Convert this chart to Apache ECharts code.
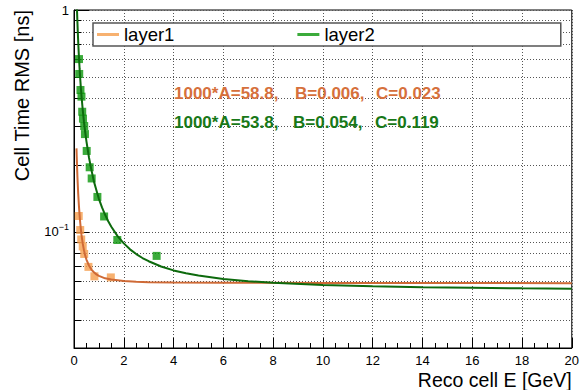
<!DOCTYPE html>
<html><head><meta charset="utf-8">
<script src="https://cdn.jsdelivr.net/npm/echarts@6/dist/echarts.min.js"></script>
<style>html,body{margin:0;padding:0;background:#fff}#c{width:582px;height:390px}</style>
</head><body><div id="c"></div>
<script>
// ---- data ----
const layer1E   = [0.19, 0.25, 0.29, 0.35, 0.41, 0.58, 0.82, 1.48];
const layer1RMS = [0.118, 0.102, 0.0925, 0.0861, 0.0796, 0.0696, 0.0631, 0.0624];

const layer2E   = [0.20, 0.21, 0.26, 0.30, 0.33, 0.36, 0.41, 0.44, 0.51, 0.63, 0.71, 0.94, 1.21, 1.74, 3.32];
const layer2RMS = [0.601, 0.515, 0.436, 0.407, 0.348, 0.324, 0.300, 0.276, 0.2317, 0.1956, 0.1742, 0.1438, 0.1174, 0.0920, 0.0780];

// fit curves
const fit1E   = [0.1, 0.11, 0.12, 0.13, 0.14, 0.15, 0.17, 0.2, 0.225, 0.25, 0.3, 0.35, 0.4, 0.45, 0.5, 0.6, 0.7, 0.8, 0.9, 1, 1.25, 1.5, 2, 2.5, 3, 4, 6, 10, 20];
const fit1RMS = [0.238, 0.218, 0.201, 0.187, 0.175, 0.165, 0.148, 0.130, 0.119, 0.110, 0.0972, 0.0888, 0.0828, 0.0784, 0.0751, 0.0706, 0.0677, 0.0658, 0.0644, 0.0634, 0.0618, 0.0610, 0.0601, 0.0597, 0.0594, 0.0592, 0.0590, 0.0589, 0.0588];

const fit2E   = [0.12, 0.13, 0.14, 0.15, 0.165, 0.18, 0.2, 0.225, 0.25, 0.275, 0.3, 0.35, 0.4, 0.45, 0.5, 0.6, 0.7, 0.8, 0.9, 1, 1.125, 1.25, 1.375, 1.5, 1.75, 2, 2.25, 2.5, 2.75, 3, 3.5, 4, 4.5, 5, 6, 7, 8, 10, 12, 14, 16, 18, 20];
const fit2RMS = [1.005, 0.931, 0.866, 0.807, 0.736, 0.675, 0.610, 0.544, 0.491, 0.448, 0.412, 0.356, 0.314, 0.282, 0.256, 0.217, 0.190, 0.169, 0.154, 0.141, 0.129, 0.1195, 0.1118, 0.1055, 0.0958, 0.0888, 0.0835, 0.0795, 0.0763, 0.0738, 0.0699, 0.0671, 0.0651, 0.0636, 0.0614, 0.0600, 0.0590, 0.0577, 0.0569, 0.0563, 0.0560, 0.0557, 0.0555];

const seriesNames = ['layer1', 'layer2'];
const fitText1 = ['1000*A=58.8,', 'B=0.006,', 'C=0.023'];
const fitText2 = ['1000*A=53.8,', 'B=0.054,', 'C=0.119'];
const yMinorTicks = [0.04, 0.05, 0.06, 0.07, 0.08, 0.09, 0.2, 0.3, 0.4, 0.5, 0.6, 0.7, 0.8, 0.9];
const xTitle = 'Reco cell E [GeV]';
const yTitle = 'Cell Time RMS [ns]';

// ---- chart ----
const FONT = '"Liberation Sans", Arial, Helvetica, sans-serif';
const C_OR_MK = '#f59d4c', C_OR_LN = '#cf6a36', C_OR_TX = '#d6703c';
const C_GR_MK = '#0a960a', C_GR_LN = '#0d6a0d', C_GR_TX = '#187818';
const TXT_FONT = 'bold 17px ' + FONT;

const zip = (a, b) => a.map((v, i) => [v, b[i]]);
const chart = echarts.init(document.getElementById('c'), null, {renderer: 'svg'});

chart.setOption({
  animation: false,
  backgroundColor: '#fff',
  textStyle: {fontFamily: FONT},
  grid: {left: 74, right: 9, top: 10, bottom: 42, show: true, borderColor: '#000', borderWidth: 1, containLabel: false},
  xAxis: {
    type: 'value', min: 0, max: 20, interval: 2,
    name: xTitle, nameLocation: 'end', nameGap: 0,
    nameTextStyle: {fontSize: 19.5, color: '#000', align: 'right', verticalAlign: 'top', padding: [22, 0, 0, 0], fontFamily: FONT},
    axisLine: {lineStyle: {color: '#000', width: 1}},
    axisTick: {inside: true, length: 10, lineStyle: {color: '#000'}},
    minorTick: {show: true, splitNumber: 4, length: 5, lineStyle: {color: '#000'}},
    splitLine: {show: true, lineStyle: {color: '#555', type: [1, 2], width: 1}},
    axisLabel: {fontSize: 13, color: '#000', margin: 6, fontFamily: FONT}
  },
  yAxis: {
    type: 'log', logBase: 10, min: 0.03, max: 1,
    name: yTitle, nameLocation: 'end', nameGap: 0, nameRotate: 90,
    nameTextStyle: {fontSize: 20, color: '#000', align: 'right', verticalAlign: 'bottom', padding: [0, 0, 42, 0], fontFamily: FONT},
    axisLine: {lineStyle: {color: '#000', width: 1}},
    axisTick: {inside: true, length: 15, lineStyle: {color: '#000'}},
    splitLine: {show: true, lineStyle: {color: '#555', type: [1, 2], width: 1}},
    axisLabel: {
      color: '#000', margin: 5, fontFamily: FONT,
      formatter: v => {
        const p = Math.log10(v);
        if (Math.abs(p) < 1e-6) return '{a|1}';
        if (Math.abs(p + 1) < 1e-6) return '{a|10}{b|\u22121}';
        return '';
      },
      rich: {
        a: {fontSize: 13, lineHeight: 18, color: '#000', fontFamily: FONT},
        b: {fontSize: 9, lineHeight: 9, verticalAlign: 'top', color: '#000', fontFamily: FONT}
      }
    }
  },
  legend: {
    data: [{name: seriesNames[0], icon: 'rect'}, {name: seriesNames[1], icon: 'rect'}],
    left: 93, top: 23, orient: 'horizontal',
    itemWidth: 22, itemHeight: 3, itemGap: 123,
    padding: [2, 186, 2, 4],
    borderColor: '#555', borderWidth: 1.5, backgroundColor: '#fff', borderRadius: 0,
    selectedMode: false,
    textStyle: {fontSize: 18.5, color: '#000', fontFamily: FONT}
  },
  graphic: [
    {type: 'text', x: 174, y: 93, z: 100, style: {text: fitText1[0], fill: C_OR_TX, font: TXT_FONT, verticalAlign: 'middle'}},
    {type: 'text', x: 295, y: 93, z: 100, style: {text: fitText1[1], fill: C_OR_TX, font: TXT_FONT, verticalAlign: 'middle'}},
    {type: 'text', x: 376, y: 93, z: 100, style: {text: fitText1[2], fill: C_OR_TX, font: TXT_FONT, verticalAlign: 'middle'}},
    {type: 'text', x: 174, y: 122, z: 100, style: {text: fitText2[0], fill: C_GR_TX, font: TXT_FONT, verticalAlign: 'middle'}},
    {type: 'text', x: 293, y: 122, z: 100, style: {text: fitText2[1], fill: C_GR_TX, font: TXT_FONT, verticalAlign: 'middle'}},
    {type: 'text', x: 375, y: 122, z: 100, style: {text: fitText2[2], fill: C_GR_TX, font: TXT_FONT, verticalAlign: 'middle'}}
  ],
  series: [
    {
      type: 'custom', name: 'yminor', silent: true, z: 1, clip: false,
      data: yMinorTicks.map(v => [0, v]),
      renderItem: (params, api) => {
        const p0 = api.coord([0, api.value(1)]);
        const p1 = api.coord([20, api.value(1)]);
        const y = Math.round(p0[1]) + 0.5;
        return {type: 'group', children: [
          {type: 'line', shape: {x1: p0[0], y1: y, x2: p1[0], y2: y}, style: {stroke: '#555', lineWidth: 1, lineDash: [1, 2]}},
          {type: 'line', shape: {x1: p0[0], y1: y, x2: p0[0] + 7.5, y2: y}, style: {stroke: '#000', lineWidth: 1}}
        ]};
      }
    },
    {type: 'scatter', name: seriesNames[0], data: zip(layer1E, layer1RMS), symbol: 'rect', symbolSize: 8, itemStyle: {color: C_OR_MK}, z: 3},
    {type: 'scatter', name: seriesNames[1], data: zip(layer2E, layer2RMS), symbol: 'rect', symbolSize: 8, itemStyle: {color: C_GR_MK}, z: 3},
    {type: 'line', name: 'fit1', data: zip(fit1E, fit1RMS), showSymbol: false, smooth: false, lineStyle: {color: C_OR_LN, width: 2}, itemStyle: {color: C_OR_LN}, z: 4, silent: true},
    {type: 'line', name: 'fit2', data: zip(fit2E, fit2RMS), showSymbol: false, smooth: false, lineStyle: {color: C_GR_LN, width: 2}, itemStyle: {color: C_GR_LN}, z: 4, silent: true}
  ]
});
</script>
</body></html>
